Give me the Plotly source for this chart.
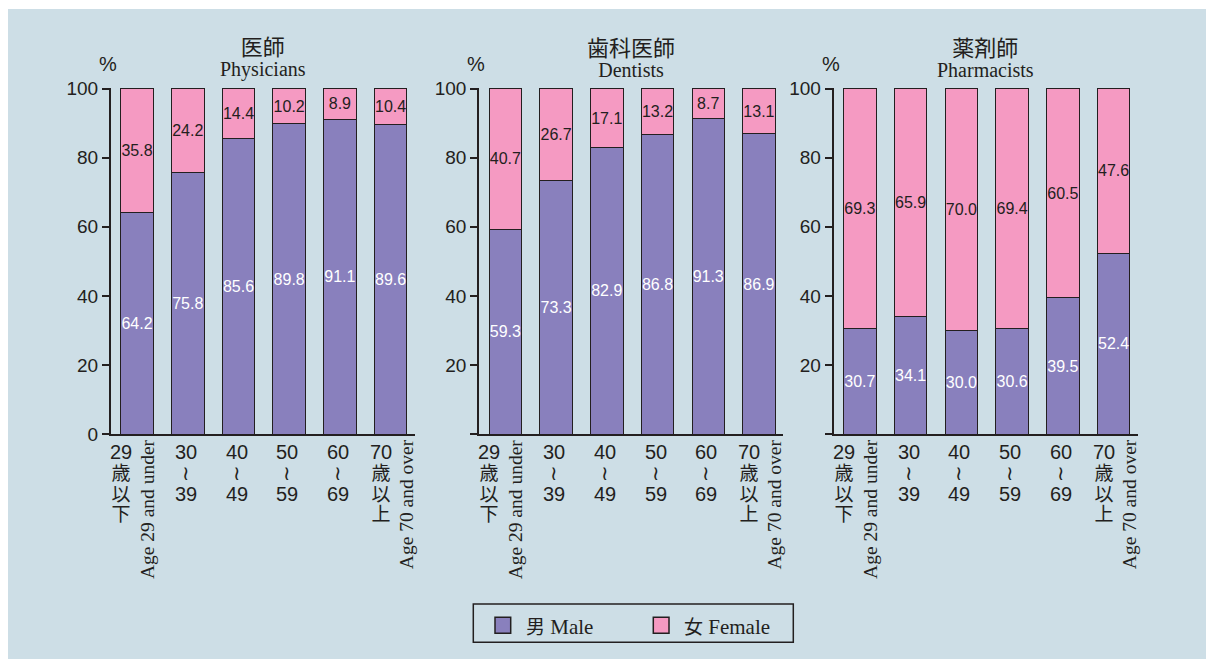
import plotly.graph_objects as go

# ---------------- data ----------------
categories = ["29歳以下", "30〜39", "40〜49", "50〜59", "60〜69", "70歳以上"]
tick_lines = [["29", "歳", "以", "下"], ["30", "≀", "39"], ["40", "≀", "49"],
              ["50", "≀", "59"], ["60", "≀", "69"], ["70", "歳", "以", "上"]]
english_ticks = ["Age 29 and under", "", "", "", "", "Age 70 and over"]

titles_ja = ["医師", "歯科医師", "薬剤師"]
titles_en = ["Physicians", "Dentists", "Pharmacists"]

physicians_male = [64.2, 75.8, 85.6, 89.8, 91.1, 89.6]
physicians_female = [35.8, 24.2, 14.4, 10.2, 8.9, 10.4]
dentists_male = [59.3, 73.3, 82.9, 86.8, 91.3, 86.9]
dentists_female = [40.7, 26.7, 17.1, 13.2, 8.7, 13.1]
pharmacists_male = [30.7, 34.1, 30.0, 30.6, 39.5, 52.4]
pharmacists_female = [69.3, 65.9, 70.0, 69.4, 60.5, 47.6]

y_tickvals = [0, 20, 40, 60, 80, 100]
series_ja = ["男", "女"]
series_en = ["Male", "Female"]

# ---------------- style ----------------
W, H = 1206, 659
BG = "#cddee6"
MALE = "#8980bd"
FEMALE = "#f59ac2"
INK = "#231f20"
SANS = "Liberation Sans, Arial, sans-serif"
SERIF = "Liberation Serif, Times New Roman, serif"
CJK_CSS = "Noto Sans CJK JP"
SERIF_CSS = "Liberation Serif"

panels = [(physicians_male, physicians_female),
          (dentists_male, dentists_female),
          (pharmacists_male, pharmacists_female)]
x_domains_px = [(110.7, 415.0), (479.0, 783.3), (833.5, 1138.0)]
y_dom = [1 - 434.3 / H, 1 - 87.5 / H]


def fx(px):
    return px / W


def fy(px):
    return 1 - px / H


def span(t, size, family=None):
    st = f"font-size:{size}px"
    if family:
        st = f"font-family:{family};" + st
    return f"<span style='{st}'>{t}</span>"


fig = go.Figure()
annotations = []
# white frame strips (top and left) over the blue page
shapes = [
    dict(type="rect", xref="paper", yref="paper", x0=0, x1=1, y0=fy(9), y1=1,
         fillcolor="white", line=dict(width=0), layer="below"),
    dict(type="rect", xref="paper", yref="paper", x0=0, x1=fx(8), y0=0, y1=1,
         fillcolor="white", line=dict(width=0), layer="below"),
]

for p, (male, female) in enumerate(panels):
    k = "" if p == 0 else str(p + 1)
    xa, ya = "x" + k, "y" + k
    for s, (vals, color, tcolor) in enumerate([(male, MALE, "white"), (female, FEMALE, INK)]):
        fig.add_trace(go.Bar(
            x=categories, y=vals, xaxis=xa, yaxis=ya,
            name=f"{series_ja[s]} {series_en[s]}", showlegend=False,
            marker=dict(color=color, line=dict(color=INK, width=1)),
            width=0.64,
            text=[f"{v:.1f}" for v in vals], textposition="inside",
            insidetextanchor="middle", textangle=0, constraintext="none",
            textfont=dict(family=SANS, size=16, color=tcolor),
            hoverinfo="skip",
        ))
    d0, d1 = x_domains_px[p]
    fig.update_layout(**{
        "xaxis" + k: dict(domain=[fx(d0), fx(d1)], anchor=ya, type="category",
                          range=[-0.52, 5.48], showticklabels=False, ticks="",
                          showline=True, linecolor=INK, linewidth=1.5, automargin=False,
                          showgrid=False, zeroline=False, fixedrange=True),
        "yaxis" + k: dict(domain=y_dom, anchor=xa, range=[0, 100.3],
                          tickvals=y_tickvals,
                          ticktext=[("" if (p > 0 and v == 0) else str(v)) for v in y_tickvals],
                          ticks="outside", ticklen=7, tickwidth=1.5, tickcolor=INK,
                          showline=True, linecolor=INK, linewidth=1.5, automargin=False,
                          showgrid=False, zeroline=False, fixedrange=True,
                          tickfont=dict(family=SANS, size=19, color=INK)),
    })
    cx = (d0 + d1) / 2
    annotations.append(dict(
        x=fx(cx), y=fy(55), xref="paper", yref="paper",
        text=span(titles_ja[p], 22, CJK_CSS) + "<br>" + span(titles_en[p], 20, SERIF_CSS),
        showarrow=False, xanchor="center", yanchor="middle",
        font=dict(family=SANS, size=16, color=INK)))
    annotations.append(dict(x=fx(d0), y=fy(64), xref="paper", yref="paper", xshift=-3,
                            text="%", showarrow=False, xanchor="center", yanchor="middle",
                            font=dict(family=SANS, size=20, color=INK)))
    for i, lines in enumerate(tick_lines):
        if i == 0:
            sx, ex = -16, 10
        elif i == len(tick_lines) - 1:
            sx, ex = -10, 15.5
        else:
            sx, ex = -2, 0
        parts = []
        for t in lines:
            if t in ("歳", "以", "下", "上"):
                parts.append(span(t, 19, CJK_CSS))
            else:
                parts.append(span(t, 20))
        annotations.append(dict(
            x=i, xref=xa, y=fy(439), yref="paper", xshift=sx,
            text="<br>".join(parts), showarrow=False, xanchor="center", yanchor="top",
            font=dict(family=SANS, size=16, color=INK)))
        if english_ticks[i]:
            annotations.append(dict(
                x=i, xref=xa, y=fy(437), yref="paper", xshift=ex,
                text=english_ticks[i], showarrow=False, textangle=-90,
                xanchor="center", yanchor="top",
                font=dict(family=SERIF, size=19.5, color=INK)))

shapes.append(dict(type="rect", xref="paper", yref="paper", x0=fx(473.3), x1=fx(793.3),
                   y0=fy(642.3), y1=fy(604), line=dict(color=INK, width=1.5),
                   fillcolor="rgba(0,0,0,0)"))
key_x = [(495.0, 510.7, 524.0), (653.3, 669.0, 682.5)]
for s, color in enumerate([MALE, FEMALE]):
    x0, x1, tx = key_x[s]
    shapes.append(dict(type="rect", xref="paper", yref="paper", x0=fx(x0), x1=fx(x1),
                       y0=fy(633.3), y1=fy(617.3), fillcolor=color,
                       line=dict(color=INK, width=1.5)))
    annotations.append(dict(
        x=fx(tx), y=fy(625.5), xref="paper", yref="paper", xanchor="left", yanchor="middle",
        text=span(series_ja[s], 19, CJK_CSS) + " " + series_en[s], showarrow=False,
        font=dict(family=SERIF, size=21, color=INK)))

fig.update_layout(
    width=W, height=H,
    margin=dict(l=0, r=0, t=0, b=0, pad=0, autoexpand=False),
    paper_bgcolor=BG,
    plot_bgcolor="rgba(0,0,0,0)",
    barmode="stack",
    annotations=annotations,
    shapes=shapes,
    showlegend=False,
)

post = ("document.documentElement.style.margin='0';document.body.style.margin='0';"
        "document.documentElement.style.background='" + BG + "';"
        "document.body.style.background='" + BG + "';"
        "document.body.style.padding='0';document.body.style.overflow='hidden';"
        "document.documentElement.style.overflow='hidden';"
        "var d=document.getElementById('{plot_id}');d.style.position='absolute';"
        "d.style.left='0px';d.style.top='0px';")

fig.write_html("out.html", post_script=post, config={"displayModeBar": False})
